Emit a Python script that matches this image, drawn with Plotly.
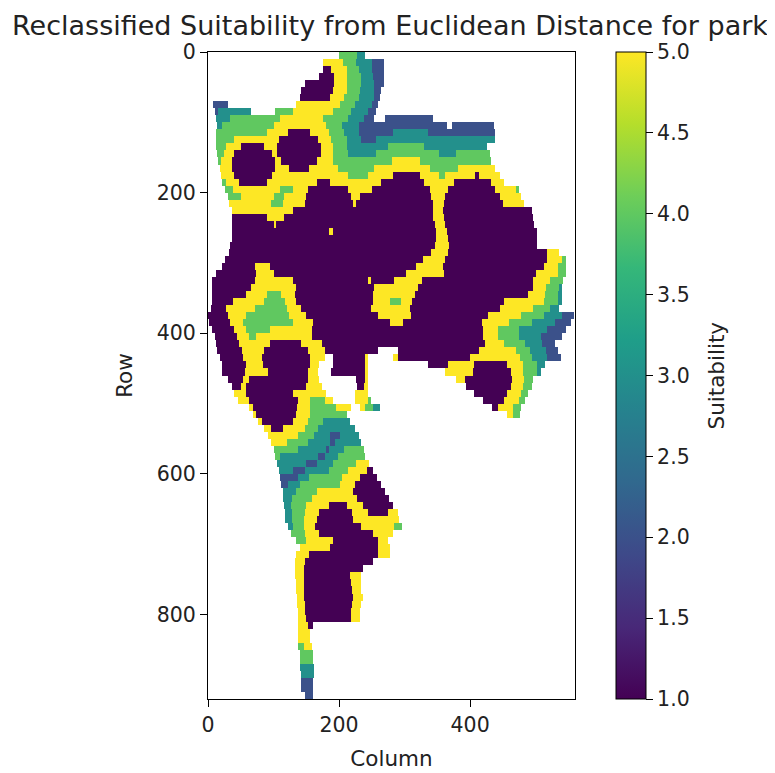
import numpy as np
import plotly.graph_objects as go

TITLE = "Reclassified Suitability from Euclidean Distance for park"
X_LABEL = "Column"
Y_LABEL = "Row"
BAR_LABEL = "Suitability"
X_TICKS = [0, 200, 400]
Y_TICKS = [0, 200, 400, 600, 800]
BAR_TICKS = [1.0, 1.5, 2.0, 2.5, 3.0, 3.5, 4.0, 4.5, 5.0]
COLUMNS = 560
ROWS = 920
ROW_STEP = 10
COLUMN_STEP = 2
VIRIDIS = ["#440154", "#482878", "#3e4989", "#31688e", "#26828e", "#1f9e89", "#35b779", "#6ece58", "#b5de2b", "#fde725"]

# One line per raster row: column, class, column, class, ... column.
# Class 0 means no data.
RASTER = """
200 4 228 3 240
176 5 207 4 227 3 250 2 268
176 1 189 5 212 4 231 3 250 2 268
171 1 193 5 213 4 234 3 252 2 269
148 1 193 5 213 4 234 3 254 2 268
143 1 190 5 212 4 232 3 254 2 265
140 1 186 5 209 4 230 3 254 2 263
8 2 30 0 135 5 202 4 224 3 250 2 260
11 2 16 3 67 0 102 4 130 5 191 4 219 3 245 2 257
13 3 34 4 110 5 176 4 214 3 239 2 255 0 270 2 345
15 3 22 4 101 5 181 4 205 3 230 2 364 0 372 2 436
13 4 90 5 123 1 156 5 185 4 208 3 230 2 283 3 336 2 438
13 4 40 5 109 1 169 5 188 4 213 3 235 2 257 3 438
13 4 29 5 51 1 87 5 106 1 172 5 191 4 212 3 275 4 331 3 426
15 4 24 5 41 1 98 5 107 1 172 5 191 4 215 3 257 4 352 3 378 4 430
17 4 21 5 37 1 102 5 112 1 167 5 191 4 280 5 324 4 433
18 5 37 1 102 5 124 1 155 5 199 4 254 5 339 4 383 5 439
21 5 40 1 99 5 214 4 245 5 283 1 324 5 353 4 362 5 408 1 415 5 446
23 4 28 5 49 1 90 5 166 1 186 5 265 1 331 5 377 1 432 5 452
26 4 38 5 111 4 130 5 152 1 214 5 250 1 338 5 367 1 438 5 470 4 474
30 4 51 5 100 4 117 5 151 1 219 5 232 1 340 5 363 1 446 5 478
33 5 97 4 115 5 148 1 222 5 226 1 344 5 360 1 451 5 482
36 5 130 1 344 5 358 1 494
37 1 90 5 117 1 345 5 360 1 497
36 1 101 5 104 1 347 5 362 1 499
36 1 184 5 191 1 349 5 364 1 502
36 1 349 5 366 1 503
35 1 346 5 369 1 503
32 1 341 5 367 1 519 5 537
27 1 328 5 362 1 519 5 540 4 547
23 1 72 5 95 1 318 5 359 1 512 5 535 4 547
13 1 74 5 100 1 302 5 361 1 500 5 535 4 547
7 1 73 5 130 1 245 5 249 1 285 5 326 1 497 5 522 4 542
6 1 67 5 135 1 255 5 321 1 497 5 517 4 537 3 541
6 1 59 5 90 4 112 5 133 1 252 5 316 1 489 5 515 4 535 3 540
6 1 39 5 87 4 118 5 135 1 252 5 278 4 295 5 313 1 453 5 512 4 534 3 540
5 1 28 5 73 4 120 5 143 1 249 5 308 1 446 5 497 4 522 3 537
0 1 31 5 59 4 125 5 150 1 260 5 311 1 429 5 479 4 513 3 541 2 558
3 1 35 5 54 4 131 5 161 1 278 5 298 1 419 5 461 4 495 3 530 2 554
7 1 41 5 58 4 95 5 158 1 420 5 443 4 475 3 518 2 547
11 1 45 5 62 4 74 5 158 1 421 5 442 4 474 3 508 2 540
13 1 49 5 95 1 143 5 174 1 423 5 452 4 485 3 510 2 530
15 1 53 5 86 1 153 5 179 1 260 0 290 1 415 5 471 4 492 3 516 2 534
18 1 55 5 83 1 157 5 178 0 190 1 240 5 245 0 283 5 290 1 400 5 476 4 495 3 518 2 539
22 1 59 5 84 1 157 5 171 0 190 1 240 5 244 0 336 1 367 5 406 1 457 5 480 4 502 3 515
23 1 57 5 92 1 153 5 168 0 188 1 240 5 245 0 362 5 404 1 462 5 481 4 503 3 508
31 1 54 5 62 1 153 5 171 0 227 1 240 5 245 0 379 5 392 1 464 5 482 4 497
36 1 51 5 59 1 150 5 175 0 228 1 239 5 245 0 395 1 462 5 481 4 494
41 5 59 1 130 5 180 0 225 5 245 0 407 1 457 5 479 4 489
46 5 62 1 138 5 157 4 179 5 191 0 225 5 245 4 248 0 420 1 452 5 474 4 484
62 5 69 1 137 5 156 4 196 5 219 0 232 5 240 4 252 3 263 0 435 1 443 5 466 4 479
69 5 74 1 135 5 156 4 212 0 456 5 466 4 476
77 5 82 1 130 5 153 4 176 3 217
87 5 97 1 115 5 148 4 168 3 225
92 5 138 4 163 3 186 2 203 3 231
96 5 120 4 153 3 186 2 194 3 235
100 4 138 3 180 2 185 3 209 4 238
103 4 110 3 169 2 178 3 199 4 241
106 3 151 2 166 3 191 4 227 5 246
108 3 130 2 148 3 184 4 214 5 242 1 252
111 2 138 3 155 4 204 5 232 1 258
112 2 123 3 140 4 202 5 225 1 265
114 3 134 4 166 5 223 1 270
115 3 129 4 158 5 228 1 276
117 3 127 4 151 5 184 1 212 5 236 1 283
118 3 128 4 148 5 171 1 221 5 244 1 275 5 290
119 3 129 4 146 5 166 1 222 5 292
123 3 131 4 146 5 164 1 235 5 285 4 297
127 4 148 5 171 1 252 5 282
134 4 150 5 191 1 261 5 275
140 5 186 1 260 5 278
135 5 155 1 260 5 278
133 5 148 1 252
133 5 146 1 237
133 5 146 1 217 5 235
134 5 146 1 219 5 235
135 5 146 1 221 5 235
136 5 147 1 222 5 236
137 5 148 1 221 5 235
138 5 148 1 218 5 233
139 5 151 1 218 5 232
139 5 152 1 161
139 5 157
139 5 157
139 4 146 5 158
140 4 160
141 4 161
141 3 162
142 3 162
143 2 161
143 2 160
148 2 160
"""


def expand(line):
    parts = [int(p) for p in line.split()]
    row = np.full(COLUMNS // COLUMN_STEP, np.nan)
    for i in range(0, len(parts) - 2, 2):
        if parts[i + 1] > 0:
            row[parts[i] // COLUMN_STEP: parts[i + 2] // COLUMN_STEP] = parts[i + 1]
    return row


lines = RASTER.strip().splitlines()
z = np.vstack([expand(l) for l in lines])
scale = [[i / (len(VIRIDIS) - 1), c] for i, c in enumerate(VIRIDIS)]
TEXT = "#222222"
SIZE = 20.5

fig = go.Figure(go.Heatmap(
    z=z,
    x0=COLUMN_STEP / 2, dx=COLUMN_STEP,
    y0=ROW_STEP / 2, dy=ROW_STEP,
    zmin=1, zmax=5,
    colorscale=scale,
    hoverinfo="skip",
    colorbar=dict(
        x=(616 - 208) / 367, xanchor="left", xref="paper", xpad=0,
        y=0.5, yanchor="middle", yref="paper", ypad=0,
        len=1, lenmode="fraction", thickness=30, thicknessmode="pixels",
        outlinewidth=1, outlinecolor="black",
        tickmode="array", tickvals=BAR_TICKS, ticktext=[f"{v:.1f}" for v in BAR_TICKS],
        ticks="outside", ticklen=7, tickcolor="black",
        tickfont=dict(family="DejaVu Sans", size=SIZE, color=TEXT),
    ),
))

axis = dict(
    showgrid=False, zeroline=False, showline=True, linecolor="black", linewidth=1, mirror=True,
    ticks="outside", ticklen=7, tickcolor="black",
    tickfont=dict(family="DejaVu Sans", size=SIZE, color=TEXT),
    title_font=dict(family="DejaVu Sans", size=21.5, color=TEXT),
)
fig.update_layout(
    width=775, height=773, autosize=False,
    paper_bgcolor="white", plot_bgcolor="white",
    margin=dict(l=200, r=208, t=44, b=82, autoexpand=False),
    title=dict(text=TITLE, x=382 / 775, xanchor="center", xref="container",
               y=1 - 18 / 773, yanchor="middle",
               font=dict(family="DejaVu Sans", size=27, color=TEXT)),
    xaxis=dict(axis, range=[0, COLUMNS], tickvals=X_TICKS, title=dict(text=X_LABEL, standoff=15)),
    yaxis=dict(axis, range=[ROWS, 0], tickvals=Y_TICKS, title=dict(text=Y_LABEL, standoff=18)),
    annotations=[dict(text=BAR_LABEL, textangle=-90, xref="paper", yref="paper",
                      x=(716 - 208) / 367, y=0.5, xanchor="center", yanchor="middle", showarrow=False,
                      font=dict(family="DejaVu Sans", size=21.5, color=TEXT))],
)
fig.write_html("out.html")
